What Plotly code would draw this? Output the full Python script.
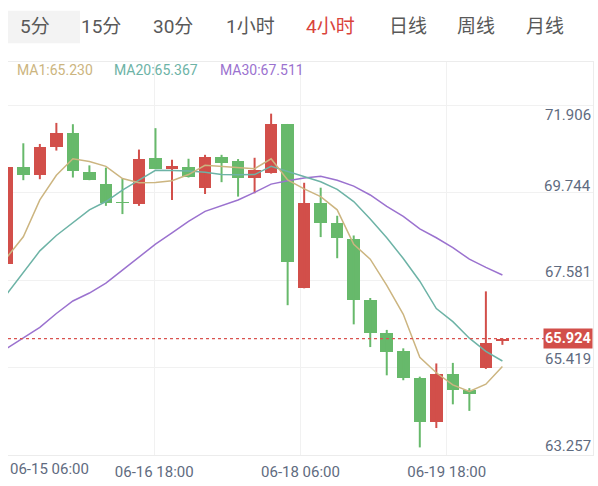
import plotly.graph_objects as go

# ---------------- data ----------------
tabs = ["5分", "15分", "30分", "1小时", "4小时", "日线", "周线", "月线"]
active_tab = "4小时"
x_tick_labels = ["06-15 06:00", "06-16 18:00", "06-18 06:00", "06-19 18:00"]
y_tick_labels = ["71.906", "69.744", "67.581", "65.419", "63.257"]
legend_texts = ["MA1:65.230", "MA20:65.367", "MA30:67.511"]
last_price = 65.924

opens = [67.776, 70.207, 70.000, 70.700, 71.045, 70.084, 69.779, 69.345, 69.286, 70.429,
         70.165, 70.207, 69.673, 70.468, 70.345, 69.936, 70.059, 71.274, 67.192, 69.320,
         68.811, 68.417, 66.882, 66.077, 65.626, 64.936, 63.843, 65.035, 64.648, 65.183,
         65.860]
highs = [70.207, 70.798, 70.781, 71.306, 71.274, 70.247, 70.190, 69.919, 70.641, 71.175,
         70.387, 70.412, 70.510, 70.510, 70.404, 70.436, 71.537, 71.280, 69.813, 69.690,
         68.990, 68.498, 66.939, 66.143, 65.683, 64.976, 65.306, 65.320, 64.690, 67.104,
         65.930]
lows = [67.776, 69.877, 69.902, 70.616, 69.944, 69.877, 69.237, 69.032, 69.237, 70.153,
        69.385, 69.944, 69.532, 69.828, 69.468, 69.550, 70.042, 66.759, 67.180, 68.458,
        67.931, 66.281, 65.715, 65.010, 64.887, 63.212, 63.695, 64.286, 64.123, 65.170,
        65.770]
closes = [70.207, 70.000, 70.700, 71.045, 70.099, 69.894, 69.320, 69.303, 70.412, 70.165,
          70.222, 69.961, 70.468, 70.313, 69.936, 70.123, 71.274, 67.843, 69.320, 68.811,
          68.441, 66.897, 66.077, 65.584, 64.936, 63.843, 65.035, 64.648, 64.550, 65.813,
          65.924]
ma1 = [67.949, 68.466, 69.385, 70.000, 70.412, 70.345, 70.222, 69.919, 69.813, 69.820,
       69.862, 70.018, 70.247, 70.222, 70.190, 70.165, 70.412, 69.882, 69.660, 69.468,
       69.138, 68.276, 67.907, 67.252, 66.532, 65.461, 65.074, 64.771, 64.606, 64.788,
       65.230]
ma20 = [67.037, 67.579, 68.114, 68.498, 68.811, 69.138, 69.345, 69.631, 69.877, 70.123,
        70.116, 70.109, 70.074, 70.018, 70.010, 70.018, 70.222, 70.096, 69.976, 69.838,
        69.648, 69.345, 68.909, 68.441, 67.924, 67.357, 66.675, 66.348, 65.936, 65.609,
        65.367]
ma30 = [65.683, 65.936, 66.207, 66.552, 66.865, 67.062, 67.308, 67.636, 67.966, 68.281,
        68.564, 68.852, 69.099, 69.237, 69.385, 69.574, 69.779, 69.862, 69.931, 69.976,
        69.877, 69.729, 69.508, 69.222, 68.976, 68.663, 68.441, 68.195, 67.907, 67.702,
        67.511]

# ---------------- styling ----------------
W, H = 598, 486
PL, PR, PT, PB = 8, 593, 62, 460          # plot area in pixels
UP = "#d24f4a"
DOWN = "#67b96b"
C_MA1, C_MA20, C_MA30 = "#ccb580", "#6db3a6", "#9b72cf"
AXIS_TXT = "#5f6b80"
GRID = "#f1f1f1"
FONT = "Roboto, Noto Sans CJK SC, sans-serif"

n = len(closes)
idx = list(range(n))
slot = 16.52                                # px per candle
x0_px = 6.8                                 # centre of first candle
x_range = [(PL - x0_px) / slot, (PR - x0_px) / slot]
ppu = 40.6                                  # px per price unit
def y_val(py):
    return 65.419 + (362.7 - py) / ppu
def y_px(v):
    return 362.7 - (v - 65.419) * ppu
y_range = [y_val(PB), y_val(PT)]

def paper(px, py):
    return (px - PL) / (PR - PL), (PB - py) / (PB - PT)

colors = [UP if c >= o else DOWN for o, c in zip(opens, closes)]

fig = go.Figure()

# candle bodies
fig.add_trace(go.Bar(
    x=idx, y=[abs(c - o) for o, c in zip(opens, closes)],
    base=[min(o, c) for o, c in zip(opens, closes)],
    width=0.76, marker=dict(color=colors, line=dict(width=0)),
    hoverinfo="skip", showlegend=False))

# wicks
for col in (UP, DOWN):
    xs, ys = [], []
    for i in idx:
        if colors[i] == col:
            xs += [i, i, None]
            ys += [lows[i], highs[i], None]
    fig.add_trace(go.Scatter(x=xs, y=ys, mode="lines",
                             line=dict(color=col, width=2),
                             hoverinfo="skip", showlegend=False))

# moving averages
for vals, col in ((ma30, C_MA30), (ma20, C_MA20), (ma1, C_MA1)):
    fig.add_trace(go.Scatter(x=idx, y=vals, mode="lines",
                             line=dict(color=col, width=1.5),
                             hoverinfo="skip", showlegend=False))

# grid positions (evenly divided plot)
xgrid_px = [PL + (PR - PL) * k / 4 for k in (1, 2, 3)]
xgrid = [(p - x0_px) / slot for p in xgrid_px]
ygrid_px = [106 + (PB - 106) * k / 4 for k in range(5)]
ygrid = [y_val(p) for p in ygrid_px]

annotations = []
shapes = []

# tab bar
bx0, by0 = paper(8, 10)
bx1, by1 = paper(80, 43)
shapes.append(dict(type="rect", xref="paper", yref="paper", x0=bx0, y0=by0, x1=bx1, y1=by1,
                   fillcolor="#f3f3f3", line=dict(width=0), layer="below"))
tab_left_px = [18, 79, 151, 224, 304, 387, 455, 524]
for t, lx in zip(tabs, tab_left_px):
    px_, py_ = paper(lx, 26)
    annotations.append(dict(text=t, xref="paper", yref="paper", x=px_, y=py_,
                            xanchor="left", yanchor="middle", showarrow=False,
                            font=dict(family=FONT, size=19,
                                      color="#d9433b" if t == active_tab else "#595959")))

# MA legend
for t, lx, col in zip(legend_texts, [15, 112, 218], [C_MA1, C_MA20, C_MA30]):
    px_, py_ = paper(lx, 70)
    annotations.append(dict(text=t, xref="paper", yref="paper", x=px_, y=py_,
                            xanchor="left", yanchor="middle", showarrow=False,
                            font=dict(family=FONT, size=14, color=col)))

# y axis labels (drawn inside on the right)
for t in y_tick_labels:
    v = float(t)
    shift = 0
    if v > y_val(106):          # top label is kept inside the grid
        shift = -(115 - y_px(v))
    annotations.append(dict(text=t, xref="paper", yref="y", x=1, y=v, yshift=shift,
                            xanchor="right", yanchor="middle", showarrow=False,
                            font=dict(family=FONT, size=15, color=AXIS_TXT)))

# first x label, left aligned at the plot edge
fx, fy = paper(PL, 474)
annotations.append(dict(text=x_tick_labels[0], xref="paper", yref="paper", x=fx, y=fy,
                        xanchor="left", yanchor="middle", showarrow=False,
                        font=dict(family=FONT, size=15, color=AXIS_TXT)))

# last price line + label
lx1, _ = paper(547, 0)
shapes.append(dict(type="line", xref="paper", yref="y", x0=0, x1=lx1,
                   y0=last_price, y1=last_price,
                   line=dict(color="#d9534f", width=1.3, dash="dot")))
annotations.append(dict(text="<b>%.3f</b>" % last_price, xref="paper", yref="y",
                        x=1, y=last_price, xanchor="right", yanchor="middle",
                        showarrow=False, bgcolor=UP, borderpad=1,
                        font=dict(family=FONT, size=14.5, color="white")))

fig.update_layout(
    width=W, height=H,
    margin=dict(l=PL, r=W - PR, t=PT, b=H - PB, pad=0),
    paper_bgcolor="white", plot_bgcolor="white",
    barmode="overlay", bargap=0,
    showlegend=False, hovermode=False,
    font=dict(family=FONT),
    xaxis=dict(range=x_range, tickmode="array", tickvals=xgrid, ticktext=x_tick_labels[1:],
               showgrid=True, gridcolor=GRID, gridwidth=1, zeroline=False,
               showline=True, linecolor="#ececec", linewidth=1, mirror=True,
               ticks="", ticklabelstandoff=3,
               tickfont=dict(family=FONT, size=15, color=AXIS_TXT),
               fixedrange=True),
    yaxis=dict(range=y_range, tickmode="array", tickvals=ygrid, showticklabels=False,
               showgrid=True, gridcolor=GRID, gridwidth=1, zeroline=False,
               side="right", showline=True, linecolor="#ececec", linewidth=1,
               ticks="", fixedrange=True),
    annotations=annotations, shapes=shapes,
)

fig.write_html("out.html", config={"displayModeBar": False, "staticPlot": True})
